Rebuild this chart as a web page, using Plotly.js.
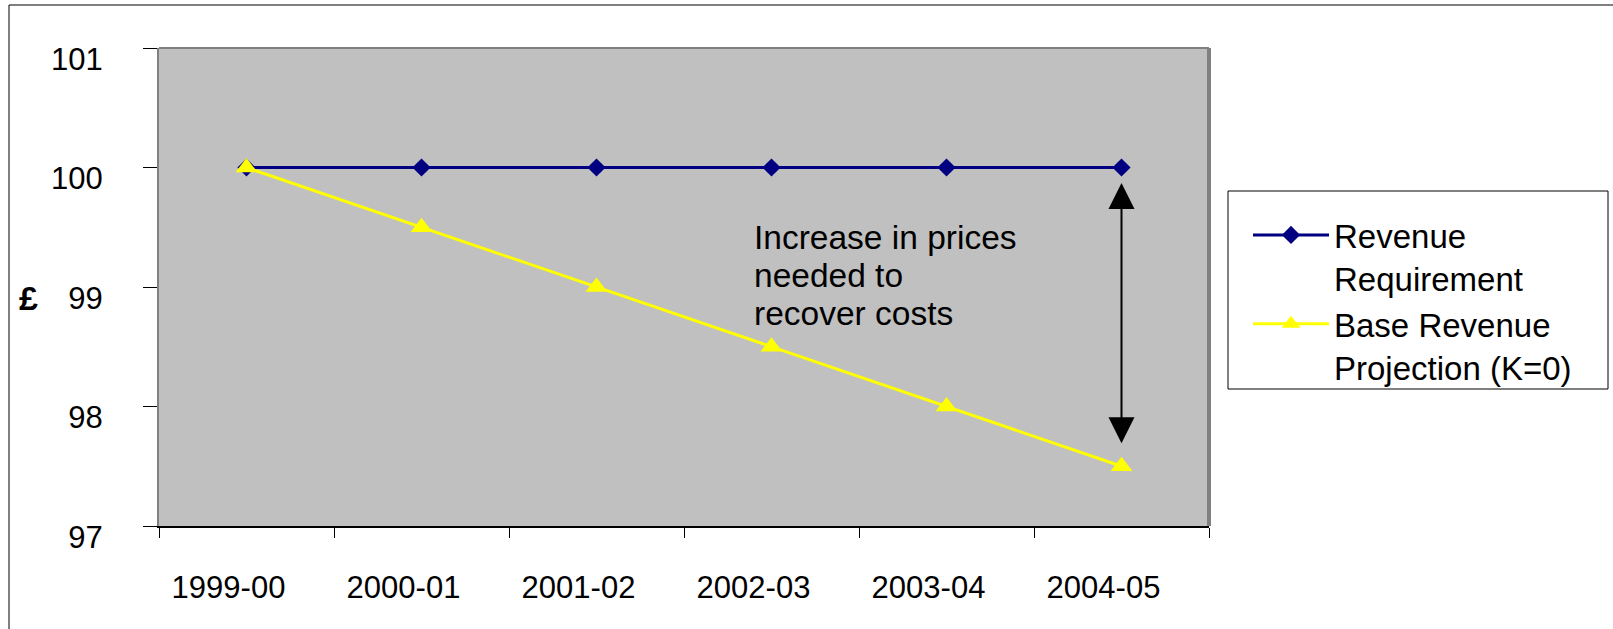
<!DOCTYPE html>
<html>
<head>
<meta charset="utf-8">
<script src="https://cdn.plot.ly/plotly-3.0.1.min.js"></script>
<style>
  html, body { margin: 0; padding: 0; background: #ffffff; }
  #chart { width: 1613px; height: 629px; }
</style>
</head>
<body>
<div id="chart"></div>
<script>
// ---- data ----
const years = ['1999-00', '2000-01', '2001-02', '2002-03', '2003-04', '2004-05'];
const revenueRequirement = [100, 100, 100, 100, 100, 100];
const baseRevenueProjection = [100, 99.5, 99, 98.5, 98, 97.5];
const seriesNames = ['Revenue<br>Requirement', 'Base Revenue<br>Projection (K=0)'];
const yTicks = [97, 98, 99, 100, 101];
const noteLines = ['Increase in prices', 'needed to', 'recover costs'];
const currencyLabel = '£';

// ---- layout helpers (pixel -> paper) ----
const M = {l: 159, r: 404, t: 48, b: 103};
const W = 1613, H = 629;
const PW = W - M.l - M.r, PH = H - M.t - M.b;
const px = x => (x - M.l) / PW;
const py = y => (H - M.b - y) / PH;

const FONT = 'Liberation Sans, Arial, sans-serif';

const traces = [
  {
    x: years, y: revenueRequirement, name: seriesNames[0], legendgroup: 'a',
    type: 'scatter', mode: 'lines+markers',
    line: {color: '#000080', width: 3},
    marker: {symbol: 'diamond', size: 14, color: '#000080'}
  },
  {
    x: years, y: baseRevenueProjection, name: seriesNames[1], legendgroup: 'b',
    type: 'scatter', mode: 'lines+markers',
    line: {color: '#FFFF00', width: 3},
    marker: {symbol: 'triangle-up', size: 19, color: '#FFFF00'}
  }
];

const annotations = noteLines.map((t, i) => ({
  text: t, xref: 'paper', yref: 'paper',
  x: px(752), y: py(237 + 38 * i), xanchor: 'left', yanchor: 'middle',
  showarrow: false, align: 'left',
  font: {family: FONT, size: 33.5, color: '#000'}
}));

annotations.push({
  xref: 'x', yref: 'y', axref: 'x', ayref: 'y',
  x: years.length - 1, y: 99.87, ax: years.length - 1, ay: 97.68,
  text: '', showarrow: true, arrowside: 'end+start',
  arrowhead: 2, startarrowhead: 2, arrowsize: 2.6, startarrowsize: 2.6,
  arrowwidth: 2, arrowcolor: '#000', standoff: 0, startstandoff: 0
});

annotations.push({
  text: '<b>' + currencyLabel + '</b>', xref: 'paper', yref: 'paper',
  x: px(28), y: py(298), xanchor: 'center', yanchor: 'middle',
  showarrow: false, font: {family: FONT, size: 34, color: '#000'}
});

const layout = {
  width: W, height: H,
  margin: M,
  paper_bgcolor: '#ffffff',
  plot_bgcolor: '#C0C0C0',
  font: {family: FONT, color: '#000'},
  showlegend: true,
  legend: {
    x: px(1248), y: py(207), xanchor: 'left', yanchor: 'top',
    bgcolor: 'rgba(0,0,0,0)', borderwidth: 0,
    font: {family: FONT, size: 33, color: '#000'},
    itemwidth: 76, tracegroupgap: 10, valign: 'top', traceorder: 'normal'
  },
  xaxis: {
    type: 'category', range: [-0.5, years.length - 0.5],
    tickson: 'boundaries', ticks: 'outside', ticklen: 10, tickwidth: 1, tickcolor: '#000',
    showline: true, linecolor: '#000', linewidth: 2,
    showgrid: false, zeroline: false,
    tickfont: {family: FONT, size: 31, color: '#000'},
    ticklabelstandoff: 33, ticklabelshift: -18
  },
  yaxis: {
    range: [97, 101], tickvals: yTicks,
    ticks: 'outside', ticklen: 14, tickwidth: 1, tickcolor: '#000',
    showline: true, linecolor: '#808080', linewidth: 2,
    showgrid: false, zeroline: false,
    tickfont: {family: FONT, size: 31, color: '#000'},
    ticklabelstandoff: 34, ticklabelshift: 11
  },
  shapes: [
    {type: 'line', xref: 'paper', yref: 'paper', x0: 0, x1: 1, y0: 1, y1: 1,
     line: {color: '#808080', width: 2}},
    {type: 'line', xref: 'paper', yref: 'paper', x0: 1, x1: 1, y0: 0, y1: 1,
     line: {color: '#808080', width: 4}},
    {type: 'line', xref: 'paper', yref: 'paper', x0: px(9), x1: px(9), y0: py(5), y1: py(640),
     line: {color: '#000', width: 1}},
    {type: 'line', xref: 'paper', yref: 'paper', x0: px(9), x1: px(1620), y0: py(5), y1: py(5),
     line: {color: '#000', width: 1}},
    {type: 'rect', xref: 'paper', yref: 'paper', x0: px(1228), x1: px(1608), y0: py(191), y1: py(389),
     fillcolor: '#ffffff', line: {color: '#000', width: 1}}
  ],
  annotations: annotations
};

Plotly.newPlot('chart', traces, layout, {displayModeBar: false, staticPlot: true});
</script>
</body>
</html>
